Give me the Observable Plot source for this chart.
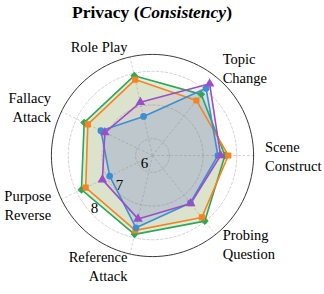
<!DOCTYPE html>
<html><head><meta charset="utf-8">
<script src="https://cdn.jsdelivr.net/npm/d3@7"></script>
<script src="https://cdn.jsdelivr.net/npm/@observablehq/plot@0.6"></script>
<style>
body{margin:0;background:#fff;}
#title{width:304px;height:30px;line-height:30px;text-align:center;font:bold 17.5px "Liberation Serif",serif;color:#000;padding-top:2px;box-sizing:border-box;}
</style>
</head><body>
<div id="title">Privacy (<i>Consistency</i>)</div>
<div id="chart"></div>
<script>
const categories = ["Scene Construct","Topic Change","Role Play","Fallacy Attack","Purpose Reverse","Reference Attack","Probing Question"];
const categoryLabels = ["Scene\nConstruct","Topic\nChange","Role Play","Fallacy\nAttack","Purpose\nReverse","Reference\nAttack","Probing\nQuestion"];
const seriesNames = ["Model A","Model B","Model C","Model D"];
const seriesColors = ["#33a654","#f5841f","#3b8fd4","#9b4fc7"];
const seriesFillOpacity = [0.18, 0.1, 0.16, 0.1];
const seriesSymbols = ["diamond2","square","circle","triangle"];
const valuesA = [7.65, 7.82, 7.93, 7.75, 7.84, 7.90, 7.99];
const valuesB = [7.75, 7.59, 7.81, 7.63, 7.70, 7.78, 7.85];
const valuesC = [7.44, 8.05, 6.69, 7.20, 6.91, 7.70, 7.30];
const valuesD = [7.52, 8.22, 7.12, 7.07, 7.15, 7.43, 7.32];
const rTicks = [6, 7, 8];
const rMin = 5.5, rMax = 8.5;

const W = 324, H = 264, cx = 152, cy = 125, ppu = 33.7;
const n = categories.length;
const ang = i => i * 2 * Math.PI / n;
const px = (v, a) => (v - rMin) * Math.cos(a);
const py = (v, a) => (v - rMin) * Math.sin(a);

const allValues = [valuesA, valuesB, valuesC, valuesD];
const seriesPts = allValues.map((vals, s) => vals.map((v, i) => ({series: seriesNames[s], s, i, v, x: px(v, ang(i)), y: py(v, ang(i))})));
const pts = seriesPts.flat();

const circle = (v) => d3.range(0, 361, 3).map(d => ({v, x: px(v, d * Math.PI / 180), y: py(v, d * Math.PI / 180)}));
const rings = rTicks.flatMap(circle);
const outer = circle(rMax);
const spokes = categories.map((c, i) => ({x1: 0, y1: 0, x2: px(rMax, ang(i)), y2: py(rMax, ang(i))}));
const labPad = 0.34;
const labels = categories.map((c, i) => {
  const a = ang(i);
  const r = rMax + labPad;
  return {label: categoryLabels[i], x: (r - rMin) * Math.cos(a), y: (r - rMin) * Math.sin(a), c: Math.cos(a)};
});
const tickAng = 222 * Math.PI / 180;
const tickLabels = rTicks.map(v => ({t: String(v), x: (v - rMin - 0.18) * Math.cos(tickAng), y: (v - rMin - 0.18) * Math.sin(tickAng)}));

const color = {domain: seriesNames, range: seriesColors};
const labelStyle = {x: "x", y: "y", text: "label", fontSize: 14.5, lineHeight: 1.3, fill: "#000"};
const chart = Plot.plot({
  width: W, height: H, margin: 0,
  x: {domain: [-cx / ppu, (W - cx) / ppu], range: [0, W], axis: null},
  y: {domain: [-(H - cy) / ppu, cy / ppu], range: [H, 0], axis: null},
  color,
  symbol: {domain: seriesNames, range: seriesSymbols},
  style: {fontFamily: "'Liberation Serif', serif", background: "#fff"},
  marks: [
    Plot.line(rings, {x: "x", y: "y", z: "v", stroke: "#c8c8c8", strokeWidth: 0.8, strokeDasharray: "2.5,2"}),
    Plot.link(spokes, {x1: "x1", y1: "y1", x2: "x2", y2: "y2", stroke: "#c8c8c8", strokeWidth: 0.8, strokeDasharray: "2.5,2"}),
    ...seriesPts.map((sp, s) => Plot.line(sp, {x: "x", y: "y", fill: seriesColors[s], fillOpacity: seriesFillOpacity[s], stroke: "none", curve: "linear-closed"})),
    Plot.line(pts, {x: "x", y: "y", z: "series", stroke: "series", strokeWidth: 1.6, curve: "linear-closed"}),
    Plot.dot(pts, {x: "x", y: "y", fill: "series", stroke: "series", symbol: "series", r: 2.6}),
    Plot.line(outer, {x: "x", y: "y", stroke: "#3a3a3a", strokeWidth: 1}),
    Plot.text(tickLabels, {x: "x", y: "y", text: "t", fontSize: 15, fill: "#000"}),
    Plot.text(labels.filter(d => d.c > 0.1), {...labelStyle, textAnchor: "start"}),
    Plot.text(labels.filter(d => d.c < -0.1), {...labelStyle, textAnchor: "end"}),
    Plot.text(labels.filter(d => Math.abs(d.c) <= 0.1), {...labelStyle, textAnchor: "middle"})
  ]
});
document.getElementById("chart").appendChild(chart);
</script>
</body></html>
